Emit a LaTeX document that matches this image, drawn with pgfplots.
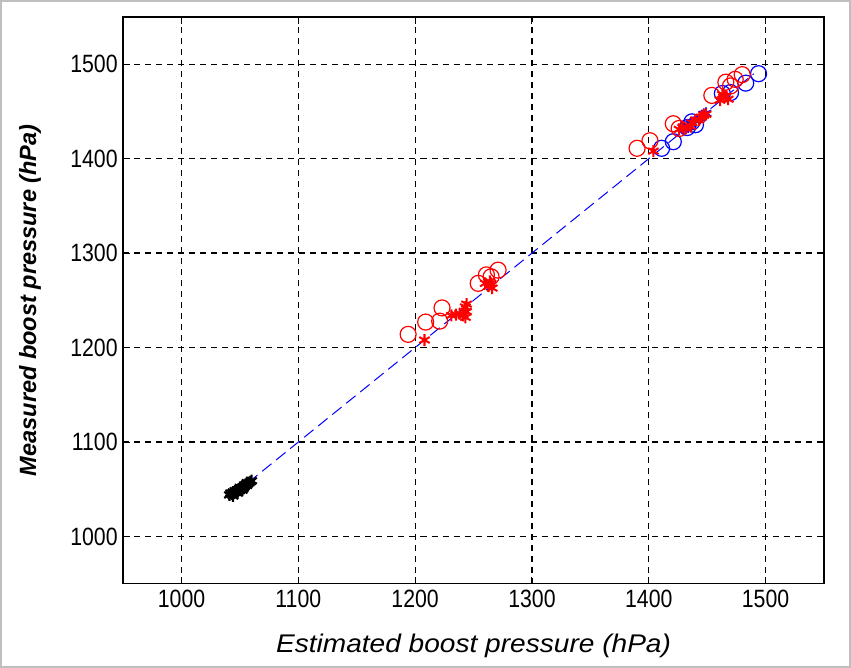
\documentclass[border=0pt]{standalone}
\usepackage{fontspec}
\setmainfont{Liberation Sans}
\newfontfamily\tickfont{Liberation Sans}[FakeStretch=0.85]
\newfontfamily\xlabfont{Liberation Sans}[FakeStretch=1.1]
\usepackage{pgfplots}
\pgfplotsset{compat=1.18}
\begin{document}
\begin{tikzpicture}
\begin{axis}[
  at={(0pt,0pt)}, anchor=south west,
  scale only axis, width=700pt, height=566pt,
  xmin=950, xmax=1550, ymin=950, ymax=1550,
  xtick={1000,1100,1200,1300,1400,1500},
  ytick={1000,1100,1200,1300,1400,1500},
  /pgf/number format/assume math mode=true,
  /pgf/number format/1000 sep={},
  tick label style={font=\tickfont\fontsize{25}{25}\selectfont},
  xticklabel style={yshift=-3pt},
  yticklabel style={xshift=-2pt},
  tick align=inside, major tick length=7pt,
  tick style={black, line width=1pt},
  axis line style={black, line width=1.3pt},
  grid=major,
  major grid style={black, line width=1.3pt, dash pattern=on 6pt off 5pt},
  xlabel={\xlabfont\itshape\fontsize{25.5}{26}\selectfont Estimated boost pressure (hPa)},
  ylabel={\bfseries\itshape\fontsize{23.5}{24}\selectfont Measured boost pressure (hPa)},
  x label style={at={(axis description cs:0.5,0)}, anchor=center, yshift=-62pt},
  y label style={at={(axis description cs:0,0.5)}, anchor=center, rotate=0, yshift=93pt},
  clip=true,
]
% reference line
\addplot[blue, line width=1pt, dash pattern=on 12pt off 6pt] coordinates {(1045,1045) (1490,1490)};
% blue circles
\addplot[only marks, mark=o, mark size=8pt, blue, mark options={line width=1.2pt}] coordinates {
(1411,1411) (1421,1418) (1433,1433) (1437,1439) (1440,1436) (1463,1469) (1470,1470) (1483,1480) (1494,1490)
};
% blue stars
\addplot[only marks, mark=asterisk, mark size=6pt, blue, mark options={line width=1.8pt}] coordinates {
(1430,1431) (1436,1437) (1440,1440) (1444,1443) (1447,1447) (1449,1448)
};
% red circles
\addplot[only marks, mark=o, mark size=8pt, red, mark options={line width=1.2pt}] coordinates {
(1194,1214) (1209,1227) (1221,1228) (1223,1242) (1254,1268) (1261,1277) (1265,1275) (1271,1282)
(1390,1411) (1401,1419) (1421,1437) (1426,1432) (1454,1467) (1466,1481) (1470,1477) (1474,1484) (1480,1489)
};
% red stars
\addplot[only marks, mark=asterisk, mark size=6pt, red, mark options={line width=2pt}] coordinates {
(1208,1208) (1231,1234) (1235,1235) (1238,1236) (1241,1234) (1243,1232) (1244,1238) (1243,1243) (1244,1246)
(1260,1268) (1263,1265) (1265,1268) (1266,1263) (1264,1270)
(1404,1408) (1426,1431) (1429,1433) (1432,1432) (1436,1434) (1437,1438) (1440,1441) (1443,1441) (1445,1444)
(1447,1446) (1449,1447) (1461,1462) (1464,1465) (1466,1466) (1468,1463) (1463,1468)
};
% black stars
\addplot[only marks, mark=asterisk, mark size=6pt, black, mark options={line width=2.2pt}] coordinates {
(1041,1044) (1042,1046) (1043,1045) (1044,1047) (1045,1046) (1046,1048) (1047,1047) (1048,1049)
(1049,1050) (1050,1049) (1051,1051) (1052,1052) (1053,1051) (1054,1053) (1055,1055) (1056,1054)
(1057,1056) (1058,1057) (1059,1058) (1060,1059) (1044,1043) (1048,1046) (1052,1049) (1056,1057) (1050,1052)
};
\end{axis}
\draw[black!25, line width=2pt] (-122pt,-83pt) rectangle (726pt,582pt);
\end{tikzpicture}
\end{document}
